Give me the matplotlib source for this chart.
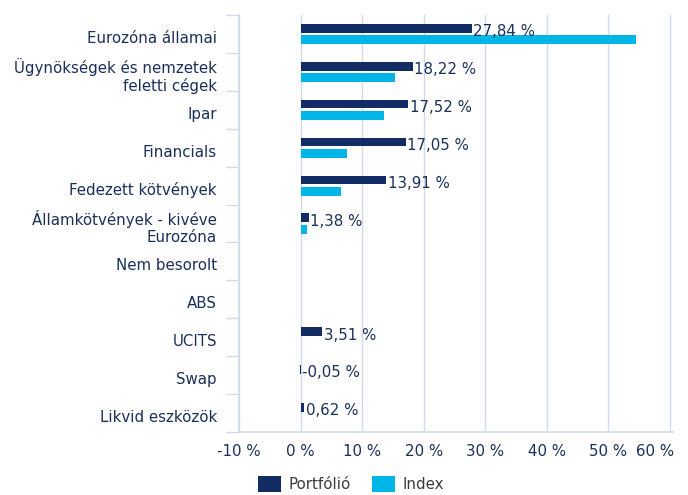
import matplotlib
matplotlib.use("Agg")
import matplotlib.pyplot as plt
import matplotlib.transforms as mtransforms
from matplotlib.patches import Patch

categories = [
    "Eurozóna államai",
    "Ügynökségek és nemzetek\nfeletti cégek",
    "Ipar",
    "Financials",
    "Fedezett kötvények",
    "Államkötvények - kivéve\nEurozóna",
    "Nem besorolt",
    "ABS",
    "UCITS",
    "Swap",
    "Likvid eszközök",
]
portfolio = [27.84, 18.22, 17.52, 17.05, 13.91, 1.38, 0.0, 0.0, 3.51, -0.05, 0.62]
index_vals = [54.5, 15.3, 13.6, 7.5, 6.6, 1.0, 0.0, 0.0, 0.0, 0.0, 0.0]
portfolio_labels = ["27,84 %", "18,22 %", "17,52 %", "17,05 %", "13,91 %", "1,38 %",
                    None, None, "3,51 %", "-0,05 %", "0,62 %"]
x_ticks = [-10, 0, 10, 20, 30, 40, 50, 60]
x_ticklabels = ["-10 %", "0 %", "10 %", "20 %", "30 %", "40 %", "50 %", "60 %"]

NAVY = "#132d64"
CYAN = "#00b5e8"
TEXT = "#1b2f5b"
GRID = "#d0dae8"
FS = 10.8

plt.rcParams['font.family'] = ['DejaVu Sans']

fig = plt.figure(figsize=(6.88, 4.95), dpi=100)
ax = fig.add_axes([239/688, 1-432/495, (673-239)/688, (432-15)/495])

n = len(categories)
ypos = list(range(n))
h = 0.23
off = 0.15
ax.barh([y - off for y in ypos], portfolio, height=h, color=NAVY, zorder=3)
ax.barh([y + off for y in ypos], index_vals, height=h, color=CYAN, zorder=3)

for y, v, lab in zip(ypos, portfolio, portfolio_labels):
    if lab is None:
        continue
    ax.annotate(lab, xy=(max(v, 0), y - off), xytext=(1, -2.5), textcoords="offset points",
                ha="left", va="center", fontsize=FS, color=TEXT, zorder=4)

ax.set_xlim(-10, 60.5)
ax.set_ylim(n - 0.5, -0.5)
ax.set_xticks(x_ticks)
ax.set_xticklabels(x_ticklabels, fontsize=FS, color=TEXT)
ax.set_yticks(ypos)
ax.set_yticklabels(categories, fontsize=FS, color=TEXT, ha="right", linespacing=1.2)
ax.tick_params(axis="y", length=0, pad=16)
ax.tick_params(axis="x", length=0, pad=9)

# category boundary ticks
ax.set_yticks([y + 0.5 for y in range(-1, n)], minor=True)
ax.tick_params(axis="y", which="minor", length=9.5, width=1, color=GRID)

for lbl in ax.get_yticklabels():
    dy = -1 if "\n" in lbl.get_text() else -2.2
    lbl.set_transform(lbl.get_transform() + mtransforms.ScaledTranslation(0, dy/72, fig.dpi_scale_trans))

xl = ax.get_xticklabels()
xl[-1].set_horizontalalignment("right")
xl[-1].set_transform(xl[-1].get_transform() + mtransforms.ScaledTranslation(3/72, 0, fig.dpi_scale_trans))

ax.grid(axis="x", color=GRID, linewidth=1, zorder=0)
for s in ["top", "right"]:
    ax.spines[s].set_visible(False)
for s in ["left", "bottom"]:
    ax.spines[s].set_color(GRID)
    ax.spines[s].set_linewidth(1.2)

handles = [Patch(facecolor=NAVY, label="Portfólió"), Patch(facecolor=CYAN, label="Index")]
fig.legend(handles=handles, loc="center", bbox_to_anchor=(351/688, 1-484/495), ncol=2,
           frameon=False, fontsize=FS, handlelength=1.55, handleheight=1.2,
           handletextpad=0.5, columnspacing=1.4, labelcolor="#3a3a3a")

fig.savefig("out.png", dpi=100)
